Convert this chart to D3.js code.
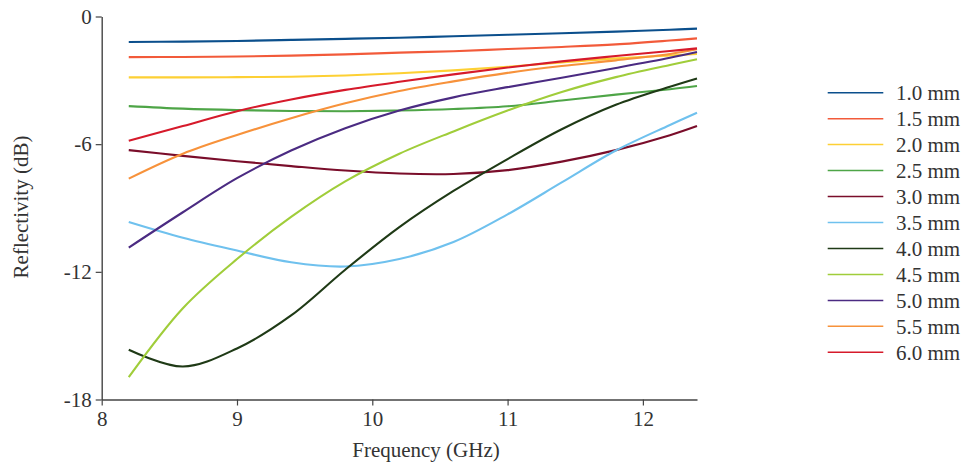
<!DOCTYPE html>
<html><head><meta charset="utf-8">
<script src="https://cdn.jsdelivr.net/npm/d3@7"></script>
<style>body{margin:0;background:#fff}text{font-family:"Liberation Serif","DejaVu Serif",serif;fill:#333}</style>
</head><body><svg id="c" width="966" height="463"></svg>
<script>
const freqs = [8.2, 8.6, 9.0, 9.4, 9.8, 10.2, 10.6, 11.0, 11.4, 11.8, 12.2, 12.4];
const labels = ["1.0 mm","1.5 mm","2.0 mm","2.5 mm","3.0 mm","3.5 mm","4.0 mm","4.5 mm","5.0 mm","5.5 mm","6.0 mm"];
const colors = ["#0b4f8c","#f25a3a","#fdd034","#4ea547","#7a0d2a","#6fc1ee","#1f3a16","#a0cd3a","#4b2b82","#f7923b","#d61a2b"];
const s10 = [-1.2, -1.18, -1.15, -1.1, -1.05, -1.0, -0.93, -0.86, -0.79, -0.71, -0.62, -0.57];
const s15 = [-1.91, -1.9, -1.88, -1.84, -1.78, -1.70, -1.63, -1.53, -1.43, -1.31, -1.13, -1.03];
const s20 = [-2.86, -2.86, -2.85, -2.83, -2.77, -2.67, -2.53, -2.36, -2.16, -1.97, -1.83, -1.76];
const s25 = [-4.21, -4.33, -4.4, -4.44, -4.45, -4.42, -4.35, -4.22, -3.95, -3.67, -3.42, -3.27];
const s30 = [-6.28, -6.55, -6.8, -7.03, -7.24, -7.38, -7.4, -7.22, -6.82, -6.28, -5.58, -5.15];
const s35 = [-9.66, -10.4, -11.0, -11.55, -11.75, -11.4, -10.6, -9.3, -7.8, -6.3, -5.1, -4.52];
const s40 = [-15.66, -16.45, -15.6, -14.05, -11.9, -9.9, -8.2, -6.7, -5.3, -4.15, -3.3, -2.91];
const s45 = [-16.95, -13.71, -11.4, -9.42, -7.75, -6.45, -5.4, -4.42, -3.55, -2.85, -2.28, -2.01];
const s50 = [-10.86, -9.2, -7.6, -6.3, -5.25, -4.42, -3.8, -3.32, -2.88, -2.42, -1.94, -1.67];
const s55 = [-7.62, -6.45, -5.57, -4.78, -4.08, -3.5, -3.05, -2.65, -2.33, -2.06, -1.76, -1.54];
const s60 = [-5.84, -5.15, -4.45, -3.9, -3.45, -3.07, -2.72, -2.4, -2.11, -1.86, -1.62, -1.5];
const series = [s10, s15, s20, s25, s30, s35, s40, s45, s50, s55, s60];
const xTicks = [8, 9, 10, 11, 12];
const yTicks = [0, -6, -12, -18];

const svg = d3.select("#c");
const x = d3.scaleLinear().domain([8, 12.4]).range([101.7, 697]);
const y = d3.scaleLinear().domain([-18, 0]).range([399.5, 16.5]);

const gx = svg.append("g").attr("transform", "translate(0,399.5)")
  .call(d3.axisBottom(x).tickValues(xTicks).tickSize(6).tickSizeOuter(0).tickFormat(d3.format("d")));
const gy = svg.append("g").attr("transform", "translate(101.7,0)")
  .call(d3.axisLeft(y).tickValues(yTicks).tickSize(6).tickSizeOuter(0).tickFormat(d => d));
[gx, gy].forEach(g => {
  g.select(".domain").attr("stroke", "#444").attr("stroke-width", 1.4);
  g.selectAll(".tick line").attr("stroke", "#444").attr("stroke-width", 1.2);
  g.selectAll(".tick text").style("font-family", '"Liberation Serif",serif').style("font-size", "21px").attr("fill", "#333");
});
gx.selectAll(".tick text").attr("dy", "0.85em").attr("y", 9);
gy.selectAll(".tick text").attr("x", -10);

const line = d3.line().x((d, i) => x(freqs[i])).y(d => y(d)).curve(d3.curveCatmullRom.alpha(0.5));
series.forEach((s, k) => {
  svg.append("path").attr("d", line(s)).attr("fill", "none")
    .attr("stroke", colors[k]).attr("stroke-width", 2.1);
});

svg.append("text").attr("x", 426).attr("y", 457).attr("text-anchor", "middle")
  .style("font-size", "21px").text("Frequency (GHz)");
svg.append("text").attr("transform", "translate(28,207) rotate(-90)").attr("text-anchor", "middle")
  .style("font-size", "21px").text("Reflectivity (dB)");

const leg = svg.append("g");
labels.forEach((l, k) => {
  const yy = 92.7 + k * 25.96;
  leg.append("line").attr("x1", 827.7).attr("x2", 883.3).attr("y1", yy).attr("y2", yy)
    .attr("stroke", colors[k]).attr("stroke-width", 1.5);
  leg.append("text").attr("x", 896).attr("y", yy).attr("dy", "0.35em")
    .style("font-size", "21px").text(l);
});
</script></body></html>
